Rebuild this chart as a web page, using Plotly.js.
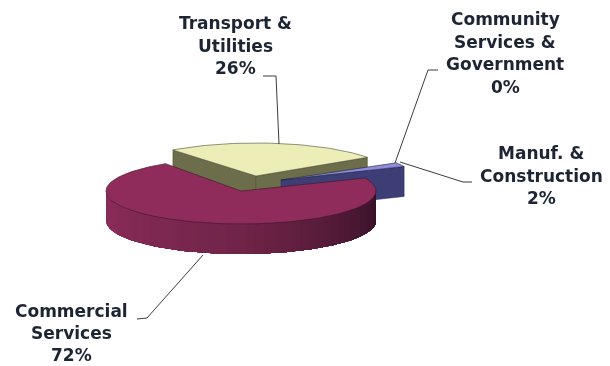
<!DOCTYPE html>
<html>
<head>
<meta charset="utf-8">
<script src="https://cdn.plot.ly/plotly-3.0.1.min.js"></script>
<style>html,body{margin:0;padding:0;background:#fff}#chart{width:610px;height:366px;filter:blur(0.4px)}</style>
</head>
<body>
<div id="chart"></div>
<script>
// Data
var categories = ['Transport & Utilities', 'Community Services & Government', 'Manuf. & Construction', 'Commercial Services'];
var shares = [26, 0, 2, 72];
var labelLines = [['Transport &', 'Utilities'], ['Community', 'Services &', 'Government'], ['Manuf. &', 'Construction'], ['Commercial', 'Services']];

// Drawing style and placement
var topColors = ['#ecedb7', '#9a9a60', '#8d8ddc', '#8f2c5b'];
var sideColors = ['#6c6d4b', '#6c6d4b', '#3e3e76', '#8f2c5b'];
var centers = [[256, 176], [281, 180], [281, 180], [241, 191]];
var turns = [3, 0, 0, -1];
var labelCenters = [[235, 23], [505, 19], [541, 153], [71, 311]];
var lineGaps = [22.5, 22.5, 22.5, 21.8];
var leaders = [
  'M279,144 L276,76 L263,76',
  'M395,163 L428,70 L438,70',
  'M400,162 L463,182 L472,182',
  'M203,255 L147,318 L137,319'
];
var RX = 135, RY = 33, DEPTH = 30, START = 125;
var rad = Math.PI / 180;

function pt(c, deg, drop) {
  return [c[0] + RX * Math.cos(deg * rad), c[1] - RY * Math.sin(deg * rad) + (drop || 0)];
}
function arc(c, a, b, drop) {
  var n = Math.max(2, Math.ceil(Math.abs(a - b) / 2)), out = [];
  for (var i = 0; i <= n; i++) out.push(pt(c, a + (b - a) * i / n, drop));
  return out;
}
function poly(points, fill, line, width, name) {
  var closed = points.concat([points[0]]);
  return {
    type: 'scatter', mode: 'lines', name: name, fill: 'toself', fillcolor: fill,
    x: closed.map(function (p) { return p[0]; }),
    y: closed.map(function (p) { return p[1]; }),
    line: {color: line, width: width}, hoverinfo: 'skip', showlegend: false
  };
}
function mix(a, b, t) {
  return 'rgb(' + a.map(function (v, i) { return Math.round(v + (b[i] - v) * t); }).join(',') + ')';
}

var angles = [], cur = START;
shares.forEach(function (s, i) { var e = cur - s * 3.6; angles.push([cur + turns[i], e + turns[i]]); cur = e; });

var traces = [];
// Transport & Utilities: two cut faces then top
(function () {
  var c = centers[0], a = angles[0], n = categories[0];
  var apexDown = [c[0], c[1] + DEPTH];
  traces.push(poly([c, pt(c, a[0]), pt(c, a[0], DEPTH), apexDown], sideColors[0], '#55563a', 0.5, n));
  traces.push(poly([c, pt(c, a[1]), pt(c, a[1], DEPTH), apexDown], sideColors[0], '#55563a', 0.5, n));
  traces.push(poly([c].concat(arc(c, a[0], a[1])), topColors[0], '#4a4a38', 0.6, n));
})();
// Manuf. & Construction: cut face, then top
(function () {
  var c = centers[2], a = angles[2], n = categories[2];
  traces.push(poly([c, pt(c, a[1]), pt(c, a[1], DEPTH), [c[0], c[1] + DEPTH]], sideColors[2], '#2c2c58', 0.5, n));
  traces.push(poly([c].concat(arc(c, a[0], a[1])), topColors[2], '#20203c', 0.6, n));
})();
// Commercial Services: shaded outer wall (each band overlaps the rest so no seams show), then top
(function () {
  var c = centers[3], a = angles[3], n = categories[3];
  var left = [142, 45, 92], mid = [112, 36, 72], right = [52, 16, 38];
  var bands = 45, step = 180 / bands;
  for (var i = 0; i < bands; i++) {
    var t1 = -180 + i * step, u = (i + 0.5) / bands;
    var col = u < 0.5 ? mix(left, mid, u * 2) : mix(mid, right, (u - 0.5) * 2);
    traces.push(poly(arc(c, t1, 0).concat(arc(c, 0, t1, DEPTH)), col, col, 0, n));
  }
  traces.push(poly([c].concat(arc(c, a[0], a[1])), topColors[3], '#3a1528', 0.6, n));
})();

var annotations = [];
labelLines.forEach(function (lines, i) {
  var all = lines.concat([shares[i] + '%']);
  all.forEach(function (txt, k) {
    annotations.push({
      x: labelCenters[i][0], y: labelCenters[i][1] + k * lineGaps[i], xref: 'x', yref: 'y',
      text: txt, showarrow: false, xanchor: 'center', yanchor: 'middle', borderpad: 0,
      font: {family: 'DejaVu Sans', size: 17, color: '#1d2433', weight: 700}
    });
  });
});

var shapes = leaders.map(function (p) {
  return {type: 'path', path: p, xref: 'x', yref: 'y', line: {color: '#3c3c3c', width: 1}, layer: 'above'};
});

Plotly.newPlot('chart', traces, {
  width: 610, height: 366,
  margin: {l: 0, r: 0, t: 0, b: 0},
  paper_bgcolor: '#fff', plot_bgcolor: '#fff', showlegend: false,
  xaxis: {range: [0, 610], visible: false, fixedrange: true},
  yaxis: {range: [366, 0], visible: false, fixedrange: true},
  annotations: annotations, shapes: shapes
}, {displayModeBar: false, staticPlot: true});
</script>
</body>
</html>
